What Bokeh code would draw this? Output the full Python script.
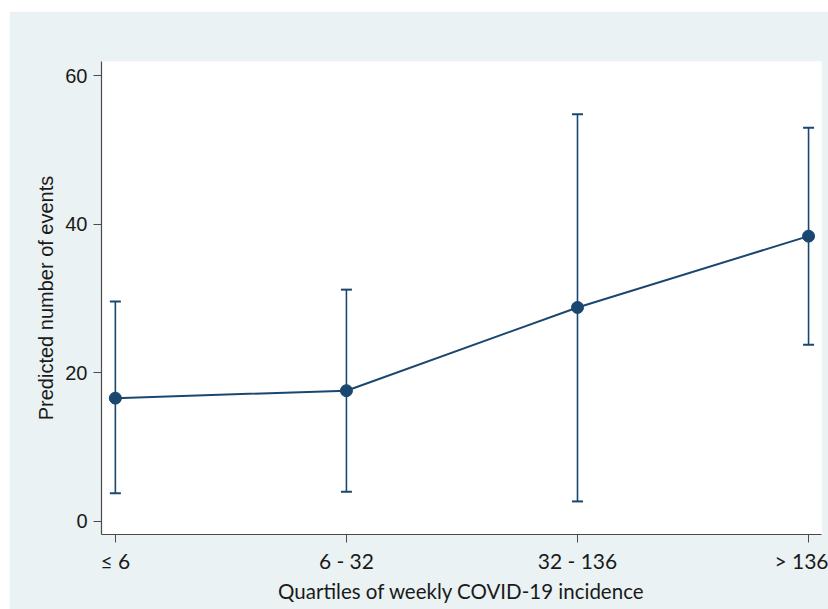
from bokeh.plotting import figure
from bokeh.models import ColumnDataSource, Whisker, TeeHead, Range1d, FixedTicker
from bokeh.embed import file_html
from bokeh.resources import INLINE

# Data
categories = ["\u2264 6", "6 - 32", "32 - 136", "> 136"]
predicted = [16.6, 17.6, 28.8, 38.4]
ci_lower = [3.8, 4.0, 2.7, 23.8]
ci_upper = [29.6, 31.2, 54.8, 53.0]
y_ticks = [0, 20, 40, 60]

navy = "#1A476F"
bg = "#EAF2F3"
axis_col = "#4a4a4a"

xs = list(range(len(categories)))
src = ColumnDataSource(dict(x=xs, y=predicted, lower=ci_lower, upper=ci_upper))

p = figure(width=819, height=598, output_backend="svg", toolbar_location=None,
           x_range=Range1d(-0.06, 3.056), y_range=Range1d(-1.75, 61.9),
           min_border_left=92, min_border_right=7, min_border_top=50, min_border_bottom=75)
p.margin = (11, 0, 0, 9)
p.background_fill_color = "white"
p.border_fill_color = bg
p.outline_line_color = None
p.grid.visible = False

w = Whisker(source=src, base="x", upper="upper", lower="lower",
            line_color=navy, line_width=1.6,
            upper_head=TeeHead(size=11, line_color=navy, line_width=2),
            lower_head=TeeHead(size=11, line_color=navy, line_width=2))
p.add_layout(w)
p.line("x", "y", source=src, line_color=navy, line_width=2)
p.scatter("x", "y", source=src, size=12, fill_color=navy, line_color=navy)

# X axis
p.xaxis.ticker = FixedTicker(ticks=xs)
p.xaxis.major_label_overrides = {i: c for i, c in enumerate(categories)}
p.xaxis.axis_label = "Quartiles of weekly COVID-19 incidence"
p.xaxis.axis_label_text_font = "Lato"
p.xaxis.axis_label_text_font_style = "normal"
p.xaxis.axis_label_text_font_size = "20.5px"
p.xaxis.axis_label_text_color = "#1a1a1a"
p.xaxis.major_label_text_font = "Lato"
p.xaxis.major_label_text_font_size = "21px"
p.xaxis.major_label_text_color = "#1a1a1a"
p.xaxis.major_label_standoff = 5
p.xaxis.axis_label_standoff = 3

# Y axis
p.yaxis.ticker = FixedTicker(ticks=y_ticks)
p.yaxis.axis_label = "Predicted number of events"
p.yaxis.axis_label_text_font = "Liberation Sans"
p.yaxis.axis_label_text_font_style = "normal"
p.yaxis.axis_label_text_font_size = "20px"
p.yaxis.axis_label_text_color = "#1a1a1a"
p.yaxis.major_label_text_font = "Liberation Sans"
p.yaxis.major_label_text_font_size = "20px"
p.yaxis.major_label_text_color = "#1a1a1a"
p.yaxis.major_label_orientation = "horizontal"
p.yaxis.major_label_standoff = 6
p.yaxis.axis_label_standoff = 5

for ax in (p.xaxis, p.yaxis):
    ax.axis_line_color = axis_col
    ax.axis_line_width = 1.2
    ax.major_tick_line_color = axis_col
    ax.major_tick_in = 0
    ax.major_tick_out = 8
    ax.minor_tick_line_color = None

open("out.html", "w").write(file_html(p, INLINE))
